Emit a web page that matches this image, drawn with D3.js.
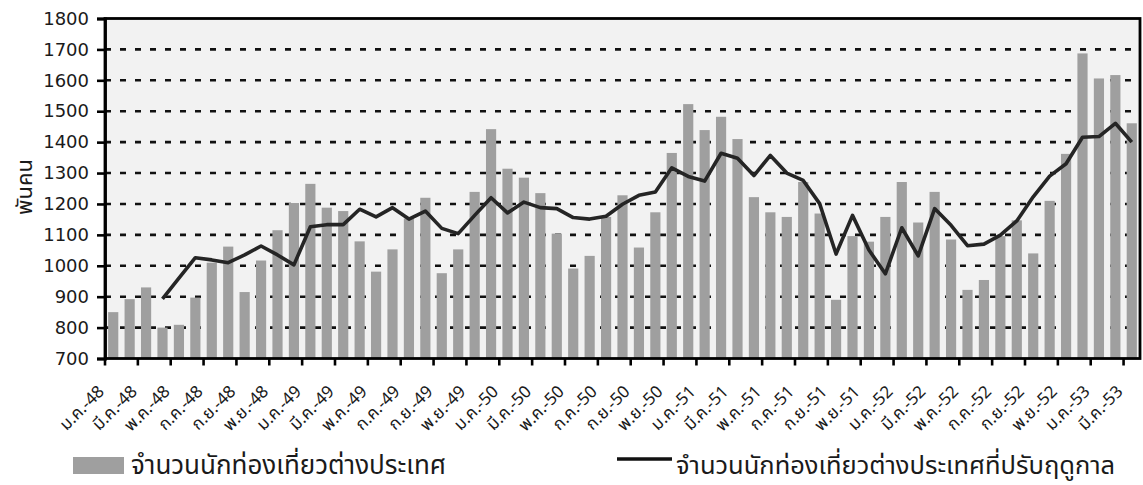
<!DOCTYPE html>
<html>
<head>
<meta charset="utf-8">
<script src="https://cdn.jsdelivr.net/npm/d3@7"></script>
<style>
  body { margin: 0; background: #fff; }
  svg { display: block; }
</style>
</head>
<body>
<svg id="chart" width="1143" height="485"></svg>
<script>
// Monthly categories, ม.ค.-48 … มี.ค.-53
const categories = [
  "ม.ค.-48","ก.พ.-48","มี.ค.-48","เม.ย.-48","พ.ค.-48","มิ.ย.-48","ก.ค.-48","ส.ค.-48","ก.ย.-48","ต.ค.-48","พ.ย.-48","ธ.ค.-48",
  "ม.ค.-49","ก.พ.-49","มี.ค.-49","เม.ย.-49","พ.ค.-49","มิ.ย.-49","ก.ค.-49","ส.ค.-49","ก.ย.-49","ต.ค.-49","พ.ย.-49","ธ.ค.-49",
  "ม.ค.-50","ก.พ.-50","มี.ค.-50","เม.ย.-50","พ.ค.-50","มิ.ย.-50","ก.ค.-50","ส.ค.-50","ก.ย.-50","ต.ค.-50","พ.ย.-50","ธ.ค.-50",
  "ม.ค.-51","ก.พ.-51","มี.ค.-51","เม.ย.-51","พ.ค.-51","มิ.ย.-51","ก.ค.-51","ส.ค.-51","ก.ย.-51","ต.ค.-51","พ.ย.-51","ธ.ค.-51",
  "ม.ค.-52","ก.พ.-52","มี.ค.-52","เม.ย.-52","พ.ค.-52","มิ.ย.-52","ก.ค.-52","ส.ค.-52","ก.ย.-52","ต.ค.-52","พ.ย.-52","ธ.ค.-52",
  "ม.ค.-53","ก.พ.-53","มี.ค.-53"
];

// International visitors (thousand persons)
const visitors = [
  850, 892, 930, 800, 809, 897, 1010, 1062, 915, 1017, 1115, 1203,
  1265, 1188, 1177, 1079, 981, 1053, 1153, 1220, 976, 1053, 1239, 1442,
  1314, 1285, 1235, 1104, 991, 1032, 1158, 1228, 1059, 1173, 1365, 1523,
  1439, 1482, 1410, 1222, 1173, 1158, 1271, 1169, 890, 1096, 1078, 1158,
  1271, 1140, 1239, 1085, 922, 954, 1096, 1147, 1040, 1210, 1362, 1687,
  1606, 1617, 1461
];

// Seasonally adjusted visitors (thousand persons); series begins at เม.ย.-48
const adjusted = [
  null, null, null, 893, 960, 1026, 1019, 1010, 1035, 1064, 1035, 1003,
  1126, 1133, 1133, 1183, 1158, 1188, 1151, 1177, 1121, 1104, 1163, 1220,
  1171, 1206, 1188, 1185, 1156, 1151, 1160, 1199, 1228, 1239, 1317, 1289,
  1274, 1364, 1348, 1292, 1357, 1300, 1276, 1201, 1038, 1163, 1051, 974,
  1123, 1032, 1185, 1131, 1065, 1070, 1099, 1145, 1223, 1290, 1330, 1416,
  1418, 1461, 1400
];

const yTicks = [700, 800, 900, 1000, 1100, 1200, 1300, 1400, 1500, 1600, 1700, 1800];
const yTitle = "พันคน";
const legendBars = "จำนวนนักท่องเที่ยวต่างประเทศ";
const legendLine = "จำนวนนักท่องเที่ยวต่างประเทศที่ปรับฤดูกาล";

const thaiFont = "Tahoma, 'Noto Sans Thai', Loma, Garuda, 'DejaVu Sans', sans-serif";
const numFont = "'DejaVu Sans', sans-serif";

const svg = d3.select("#chart");
const plotL = 105, plotR = 1140, plotT = 18.5, plotB = 358.5;

const x = d3.scaleBand().domain(categories).range([plotL, plotR])
  .paddingInner(0.38).paddingOuter(0.19);
const y = d3.scaleLinear().domain([700, 1800]).range([plotB, plotT]);
const step = x.step();
const bw = x.bandwidth();
const cx = c => x(c) + bw / 2;

const barColor = "#9f9f9f";

// plot background
svg.append("rect")
  .attr("x", plotL).attr("y", plotT)
  .attr("width", plotR - plotL).attr("height", plotB - plotT)
  .attr("fill", "#f2f2f2");

// dashed horizontal gridlines
svg.append("g").selectAll("line")
  .data(yTicks.filter(v => v > 700 && v < 1800))
  .join("line")
  .attr("x1", plotL).attr("x2", plotR)
  .attr("y1", d => y(d)).attr("y2", d => y(d))
  .attr("stroke", "#111").attr("stroke-width", 2.6)
  .attr("stroke-dasharray", "6 9");

// bars
svg.append("g").selectAll("rect")
  .data(categories.map((c, i) => ({ c, v: visitors[i] })))
  .join("rect")
  .attr("x", d => x(d.c))
  .attr("width", bw)
  .attr("y", d => y(d.v))
  .attr("height", d => plotB - y(d.v))
  .attr("fill", barColor);

// seasonally adjusted line
const lineData = categories.map((c, i) => ({ c, v: adjusted[i] }));
svg.append("path")
  .datum(lineData)
  .attr("fill", "none")
  .attr("stroke", "#252525")
  .attr("stroke-width", 3.6)
  .attr("stroke-linejoin", "round")
  .attr("d", d3.line()
    .defined(d => d.v !== null)
    .x(d => cx(d.c))
    .y(d => y(d.v)));

// frame
svg.append("rect")
  .attr("x", plotL).attr("y", plotT)
  .attr("width", plotR - plotL).attr("height", plotB - plotT)
  .attr("fill", "none").attr("stroke", "#000").attr("stroke-width", 2.8);

// y axis
const yAxis = svg.append("g")
  .attr("transform", `translate(${plotL},0)`)
  .call(d3.axisLeft(y).tickValues(yTicks).tickSize(8).tickPadding(8).tickFormat(d3.format("d")));
yAxis.select(".domain").attr("stroke", "#000").attr("stroke-width", 2.8);
yAxis.selectAll(".tick line").attr("stroke", "#000").attr("stroke-width", 2.6);
yAxis.selectAll(".tick text")
  .attr("font-family", numFont).attr("font-size", 18).attr("fill", "#1a1a1a");

// bottom tick marks every two months, on category boundaries
const tickCats = categories.filter((c, i) => i % 2 === 0);
svg.append("g").selectAll("line")
  .data(tickCats)
  .join("line")
  .attr("x1", c => x(c) - (step - bw) / 2)
  .attr("x2", c => x(c) - (step - bw) / 2)
  .attr("y1", plotB).attr("y2", plotB + 7)
  .attr("stroke", "#000").attr("stroke-width", 2.6);

// rotated month labels
svg.append("g").selectAll("text")
  .data(tickCats)
  .join("text")
  .attr("transform", c => `translate(${cx(c) - 8},${plotB + 34}) rotate(-45)`)
  .attr("text-anchor", "end")
  .attr("font-family", thaiFont)
  .attr("font-size", 17)
  .attr("fill", "#1a1a1a")
  .text(c => c);

// y title
svg.append("text")
  .attr("transform", "translate(32,187) rotate(-90)")
  .attr("text-anchor", "middle")
  .attr("font-family", thaiFont)
  .attr("font-size", 22)
  .attr("fill", "#1a1a1a")
  .text(yTitle);

// legend
const lg = svg.append("g");
lg.append("rect").attr("x", 73).attr("y", 457).attr("width", 51).attr("height", 17).attr("fill", barColor);
lg.append("text").attr("x", 131).attr("y", 474)
  .attr("font-family", thaiFont).attr("font-size", 26).attr("fill", "#1a1a1a")
  .text(legendBars);
lg.append("line").attr("x1", 617).attr("x2", 672).attr("y1", 459).attr("y2", 459)
  .attr("stroke", "#111").attr("stroke-width", 3.6);
lg.append("text").attr("x", 676).attr("y", 474)
  .attr("font-family", thaiFont).attr("font-size", 25.5).attr("fill", "#1a1a1a")
  .text(legendLine);
</script>
</body>
</html>
